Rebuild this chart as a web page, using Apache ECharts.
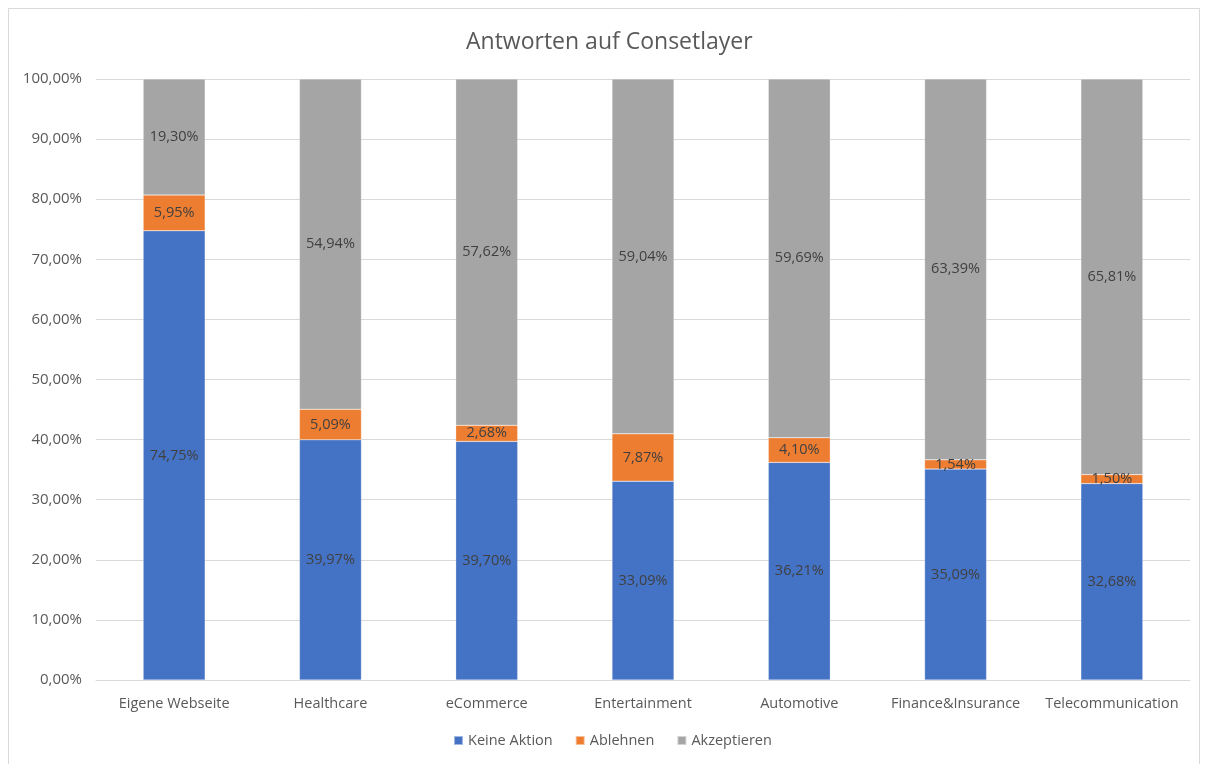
<!DOCTYPE html>
<html><head><meta charset="utf-8">
<script src="https://cdn.jsdelivr.net/npm/echarts@6/dist/echarts.min.js"></script>
<style>html,body{margin:0;padding:0;background:#fff}#c{width:1208px;height:764px}</style>
</head><body><div id="c"></div>
<script>
const categories = ['Eigene Webseite','Healthcare','eCommerce','Entertainment','Automotive','Finance&Insurance','Telecommunication'];
const keineAktion = [74.75,39.97,39.70,33.09,36.21,35.09,32.68];
const ablehnen = [5.95,5.09,2.68,7.87,4.10,1.54,1.50];
const akzeptieren = [19.30,54.94,57.62,59.04,59.69,63.39,65.81];
const seriesNames = ['Keine Aktion','Ablehnen','Akzeptieren'];
const colors = ['#4472C4','#ED7D31','#A5A5A5'];

const FONT = '"Open Sans", "Liberation Sans", sans-serif';
const fmt = v => Number(v).toFixed(2).replace('.', ',') + '%';
const chart = echarts.init(document.getElementById('c'), null, {renderer:'canvas'});
const mk = (name, data, color) => ({
  name, type:'bar', stack:'total', data, barWidth:62,
  itemStyle:{color, borderColor:'rgba(255,255,255,0.5)', borderWidth:0.5},
  label:{show:true, position:'inside', formatter:p=>fmt(p.value), color:'#404040', fontSize:14.5, fontFamily:FONT}
});
chart.setOption({
  animation:false,
  backgroundColor:'#fff',
  graphic:[{type:'rect', shape:{x:8.5,y:8.5,width:1191,height:760}, style:{fill:'none', stroke:'#d9d9d9', lineWidth:1}, silent:true}],
  title:{text:'Antworten auf Consetlayer', left:461, top:26, textStyle:{fontFamily:FONT, fontSize:23, fontWeight:'normal', color:'#595959'}},
  legend:{bottom:11, left:448, itemWidth:9, itemHeight:9, itemGap:22, icon:'rect',
    textStyle:{fontFamily:FONT, fontSize:14.5, color:'#595959'}, data:seriesNames},
  grid:{left:96, right:18, top:79, bottom:84, containLabel:false},
  xAxis:{type:'category', data:categories, axisLine:{lineStyle:{color:'#d9d9d9'}}, axisTick:{show:false},
    axisLabel:{fontFamily:FONT, fontSize:14.5, color:'#595959', margin:16, interval:0}},
  yAxis:{type:'value', min:0, max:100, interval:10, axisLine:{show:false}, axisTick:{show:false},
    splitLine:{lineStyle:{color:'#d9d9d9'}},
    axisLabel:{formatter:v=>fmt(v), fontFamily:FONT, fontSize:15, color:'#595959', margin:14}},
  series:[mk(seriesNames[0], keineAktion, colors[0]), mk(seriesNames[1], ablehnen, colors[1]), mk(seriesNames[2], akzeptieren, colors[2])]
});
</script></body></html>
